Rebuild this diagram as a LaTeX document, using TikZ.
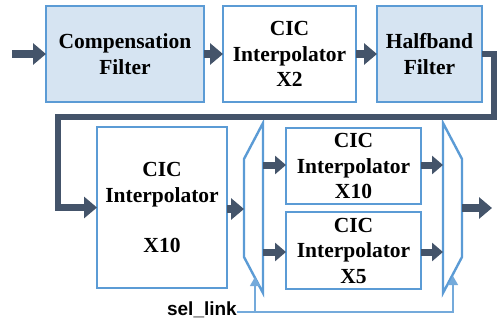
\documentclass[tikz,border=0pt]{standalone}
\usepackage{fontspec}
\setmainfont{Liberation Serif}
\setsansfont{Liberation Sans}
\usetikzlibrary{arrows.meta}
\definecolor{boxblue}{RGB}{91,155,213}
\definecolor{boxfill}{RGB}{214,228,242}
\definecolor{arrowgray}{RGB}{68,84,106}
\begin{document}
\begin{tikzpicture}[x=1pt,y=-1pt,
 blk/.style={draw=boxblue,line width=2.2pt,align=center,font=\bfseries\fontsize{21.5}{25.5}\selectfont,inner sep=0pt,outer sep=0pt},
 fblk/.style={blk,fill=boxfill},
 flow/.style={draw=arrowgray,line width=8pt,-{Triangle[length=13pt,width=21pt]}},
 link/.style={draw=arrowgray,line width=6.5pt,line join=miter,-{Triangle[length=13pt,width=21pt]}},
 sflow/.style={draw=arrowgray,line width=7pt,-{Triangle[length=11pt,width=18pt]}},
 mux/.style={draw=boxblue,line width=2.4pt,line join=miter},
 selline/.style={draw=boxblue!85,line width=1.3pt},
 selarr/.style={selline,-{Triangle[length=9pt,width=10pt]}}]
\useasboundingbox (0,0) rectangle (499,322);
% top row
\node[fblk,minimum width=158pt,minimum height=96pt] (comp) at (125,54) {Compensation\\Filter};
\node[blk,fill=white,minimum width=133pt,minimum height=96pt] (x2) at (289.5,54) {CIC\\Interpolator\\X2};
\node[fblk,minimum width=105pt,minimum height=96pt] (hb) at (429.5,54) {Halfband\\Filter};
% bottom row
\node[blk,fill=white,minimum width=130pt,minimum height=161pt] (big) at (162,207.5) {CIC\\Interpolator\\[25pt]X10};
\node[blk,fill=white,minimum width=135pt,minimum height=76pt] (up) at (353.5,166) {CIC\\Interpolator\\X10};
\node[blk,fill=white,minimum width=135pt,minimum height=77pt] (lo) at (353.5,250.5) {CIC\\Interpolator\\X5};
% muxes
\draw[mux] (263,123) -- (263,293) -- (244,257) -- (244,159) -- cycle;
\draw[mux] (443,123) -- (443,293) -- (462,257) -- (462,159) -- cycle;
\coordinate (in) at (12,54);
\coordinate (r1) at (494,117);
\coordinate (l1) at (58,117);
\coordinate (m1in) at (244,209);
\coordinate (m1a) at (263,165);
\coordinate (m1b) at (263,252);
\coordinate (m2a) at (443,165);
\coordinate (m2b) at (443,252);
\coordinate (m2out) at (462,208);
\coordinate (out) at (492,208);
\coordinate (s1) at (255,312);
\coordinate (s1t) at (255,277);
\coordinate (s2) at (453,312);
\coordinate (s2t) at (453,276);
% flows
\draw[flow] (in) -- (comp.west);
\draw[flow] (comp.east) -- (x2.west);
\draw[flow] (x2.east) -- (hb.west);
\draw[link] (hb.east) -| (r1) -- (l1) |- (big.west);
\draw[flow] (big.east |- m1in) -- (m1in);
\draw[sflow] (m1a) -- (m1a -| up.west);
\draw[sflow] (m1b) -- (m1b -| lo.west);
\draw[sflow] (up.east |- m2a) -- (m2a);
\draw[sflow] (lo.east |- m2b) -- (m2b);
\draw[flow] (m2out) -- (out);
% select
\node[anchor=east,inner sep=0pt,font=\sffamily\bfseries\fontsize{19}{22}\selectfont] (sel) at (237,310) {sel\_link};
\draw[selarr] (sel.east |- s1) -- (s2) -- (s2t);
\draw[selarr] (s1) -- (s1t);
\end{tikzpicture}
\end{document}
